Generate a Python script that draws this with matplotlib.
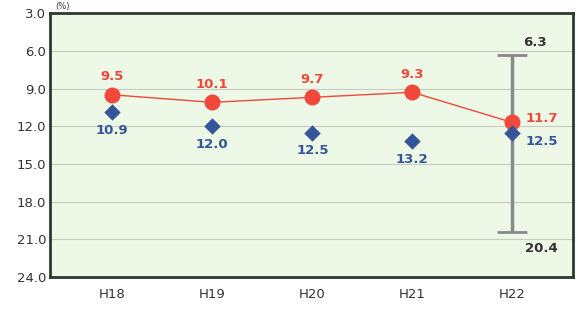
import matplotlib.pyplot as plt

years = ["H18", "H19", "H20", "H21", "H22"]
red_vals = [9.5, 10.1, 9.7, 9.3, 11.7]
blue_vals = [10.9, 12.0, 12.5, 13.2, 12.5]
range_low = 6.3
range_high = 20.4
y_ticks = [3.0, 6.0, 9.0, 12.0, 15.0, 18.0, 21.0, 24.0]

red = "#f0483a"
blue = "#34559a"
grey = "#8a8a8a"

fig = plt.figure(figsize=(5.78, 3.12), dpi=100)
ax = fig.add_axes([0.087, 0.112, 0.905, 0.846])
ax.set_facecolor("#eef8e6")

x = list(range(len(years)))

# range bar for the last year
ax.errorbar(x[-1], (range_low + range_high) / 2, yerr=(range_high - range_low) / 2,
            fmt="none", ecolor=grey, elinewidth=2.5, capsize=11, capthick=2, zorder=2)

ax.plot(x, red_vals, color=red, linewidth=1, zorder=3)
ax.scatter(x, red_vals, s=110, color=red, zorder=4)
ax.scatter(x, blue_vals, s=70, marker="D", color=blue, zorder=4, linewidths=0)

for i, (r, b) in enumerate(zip(red_vals, blue_vals)):
    if i == len(years) - 1:
        ax.text(i + 0.13, r - 0.3, f"{r:.1f}", color=red, fontsize=9.5, weight="bold",
                ha="left", va="center")
        ax.text(i + 0.13, b + 0.7, f"{b:.1f}", color=blue, fontsize=9.5, weight="bold",
                ha="left", va="center")
    else:
        ax.text(i, r - 0.9, f"{r:.1f}", color=red, fontsize=9.5, weight="bold",
                ha="center", va="bottom")
        ax.text(i, b + 0.9, f"{b:.1f}", color=blue, fontsize=9.5, weight="bold",
                ha="center", va="top")

ax.text(x[-1] + 0.11, range_low - 1.0, f"{range_low:.1f}", color="#333333", fontsize=9.5,
        weight="bold", ha="left", va="center")
ax.text(x[-1] + 0.13, range_high + 1.3, f"{range_high:.1f}", color="#333333", fontsize=9.5,
        weight="bold", ha="left", va="center")

ax.set_xlim(-0.62, 4.61)
ax.set_ylim(24, 3)
ax.set_yticks(y_ticks)
ax.set_yticklabels([f"{v:.1f}" for v in y_ticks])
ax.set_xticks(x)
ax.set_xticklabels(years)
ax.yaxis.grid(True, color="#c8cbc4", linewidth=0.8)
ax.set_axisbelow(True)
ax.tick_params(length=0, labelsize=9.5, colors="#333333", pad=3)
ax.tick_params(axis="x", pad=8)
for s in ax.spines.values():
    s.set_color("#2e3a2e")
    s.set_linewidth(2)

fig.text(0.095, 0.965, "(%)", fontsize=6, color="#333333", ha="left", va="bottom")

fig.savefig("out.png", dpi=100)
